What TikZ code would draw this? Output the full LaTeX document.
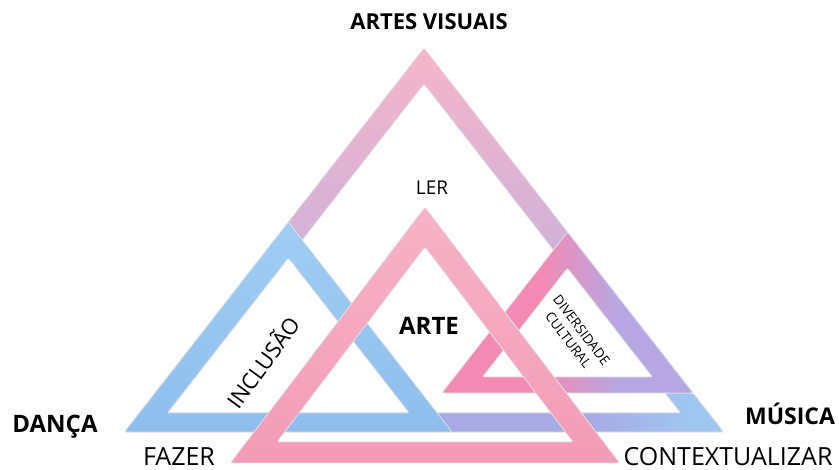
\documentclass[tikz,border=0pt]{standalone}
\usepackage{fontspec}
\setmainfont{Open Sans}
\definecolor{bigtop}{HTML}{F5B5C9}
\definecolor{bigmid}{HTML}{C9A6D9}
\definecolor{bigbot}{HTML}{B0AEE6}
\definecolor{blueA}{HTML}{9FCDF2}
\definecolor{blueB}{HTML}{8EBEEE}
\definecolor{baseblue}{HTML}{9FC6F0}
\definecolor{baselav}{HTML}{A8AAE6}
\definecolor{rpink}{HTML}{F28AB3}
\definecolor{rlav}{HTML}{B6A7E3}
\definecolor{cpinkA}{HTML}{F6B3C7}
\definecolor{cpinkB}{HTML}{F39BB7}
\definecolor{edge}{HTML}{E2E2E6}
\pgfdeclarehorizontalshading{baseshade}{100bp}{color(0bp)=(baseblue); color(25bp)=(baseblue); color(40bp)=(baseblue); color(51bp)=(baselav); color(64bp)=(baselav); color(72bp)=(baseblue); color(100bp)=(baseblue)}
\pgfdeclarehorizontalshading{rpinkshade}{100bp}{color(0bp)=(rpink); color(25bp)=(rpink); color(45bp)=(rpink); color(60bp)=(rlav); color(75bp)=(rlav); color(100bp)=(rlav)}
\tikzset{
  band/.style={even odd rule, draw=edge, line width=0.8pt, rounded corners=2pt},
  lbl/.style={inner sep=0pt, text=black},
  bold/.style={lbl, font=\bfseries\fontsize{22}{26}\selectfont},
  plain/.style={lbl, font=\fontsize{25}{28}\selectfont}
}
\begin{document}
\begin{tikzpicture}[x=1pt,y=-1pt]
\useasboundingbox[fill=white] (0,0) rectangle (839,470);
% big triangle
\path[band, top color=bigtop, middle color=bigmid, bottom color=bigbot]
  (424,48) -- (124.5,432) -- (723.5,432) -- cycle
  (424,84) -- (167.4,413) -- (680.6,413) -- cycle;
% base part of big triangle
\path[band, shading=baseshade]
  (154.9,393) -- (124.5,432) -- (723.5,432) -- (693.1,393) -- (665,393)
  -- (680.6,413) -- (167.4,413) -- (183,393) -- cycle;
% blue triangle
\path[band, top color=blueA, bottom color=blueB]
  (288.3,222) -- (124.5,432) -- (452.1,432) -- cycle
  (288.3,258) -- (167.4,413) -- (409.2,413) -- cycle;
% right pink triangle
\path[band, shading=rpinkshade]
  (567.5,232) -- (441.9,393) -- (693.1,393) -- cycle
  (567.5,268) -- (482.5,377) -- (652.5,377) -- cycle;
% central pink triangle
\path[band, top color=cpinkA, bottom color=cpinkB]
  (425,207) -- (230.4,463) -- (619.6,463) -- cycle
  (425,247) -- (277,442) -- (573,442) -- cycle;
% labels
\node[bold] (av) at (429,22) {ARTES VISUAIS};
\node[bold, font=\bfseries\fontsize{24}{28}\selectfont] (danca) at (55,427) {DANÇA};
\node[bold, font=\bfseries\fontsize{23}{27}\selectfont] (musica) at (790,414) {MÚSICA};
\node[plain] (fazer) at (179,457) {FAZER};
\node[plain] (ctx) at (728,457) {CONTEXTUALIZAR};
\node[lbl, font=\fontsize{19}{22}\selectfont] (ler) at (432,188) {LER};
\node[bold, font=\bfseries\fontsize{24}{28}\selectfont] (arte) at (429,326) {ARTE};
\node[lbl, font=\fontsize{22}{25}\selectfont, rotate=54] (inc) at (262,362) {INCLUSÃO};
\node[lbl, font=\fontsize{13.5}{16.5}\selectfont, rotate=-53, align=center] (div) at (575,335) {DIVERSIDADE\\CULTURAL};
\end{tikzpicture}
\end{document}
